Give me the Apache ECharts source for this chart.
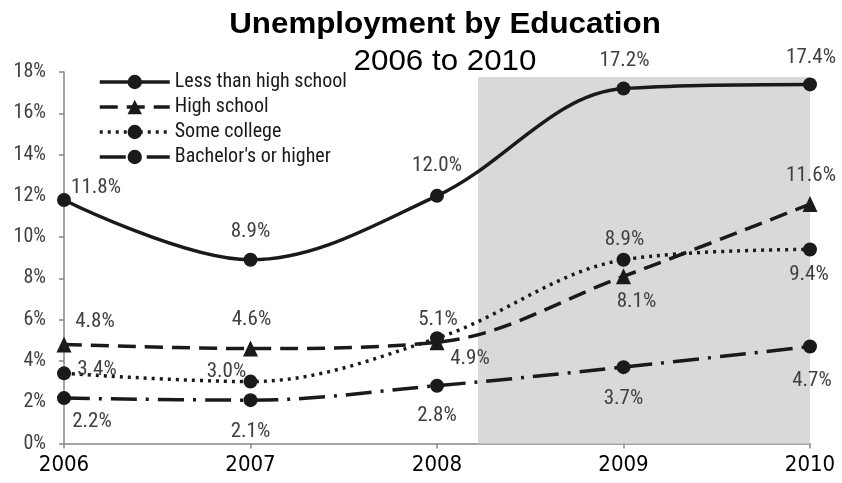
<!DOCTYPE html>
<html>
<head>
<meta charset="utf-8">
<script src="https://cdn.jsdelivr.net/npm/echarts@6/dist/echarts.min.js"></script>
<style>
  html, body { margin: 0; padding: 0; background: #fff; }
  #chart { width: 842px; height: 483px; }
</style>
</head>
<body>
<div id="chart"></div>
<script>
// Unemployment rate (%) by educational attainment, 2006-2010
const years = [2006, 2007, 2008, 2009, 2010];
const lessThanHighSchool = [11.8, 8.9, 12.0, 17.2, 17.4];
const highSchool = [4.8, 4.6, 4.9, 8.1, 11.6];
const someCollege = [3.4, 3.0, 5.1, 8.9, 9.4];
const bachelorsOrHigher = [2.2, 2.1, 2.8, 3.7, 4.7];
const yTicks = [0, 2, 4, 6, 8, 10, 12, 14, 16, 18];

// Shaded recession period (from mid-2008 to end of range)
const shadeFrom = 2008.22;
const shadeTo = 2010;
const shadeTop = 17.76;

const NARROW = '"Liberation Sans Narrow", "Roboto Condensed", "Noto Sans Condensed", "DejaVu Sans Condensed", sans-serif';
const INK = '#1a1a1a';
const LABEL = '#404040';

// Where each value label sits relative to its point [dx, dy]
const labelPlacement = {
  lessThanHighSchool: [[32, -12], [0, -28], [0, -30], [1, -28], [1, -27]],
  highSchool:        [[31, -23], [1, -29], [33, 16], [13, 25], [1, -28]],
  someCollege:       [[33, -4], [-24, -10], [1, -18], [1, -20], [-1, 25]],
  bachelorsOrHigher: [[28, 24], [0, 32], [0, 30], [0, 32], [2, 34]]
};

function points(values, key) {
  return values.map((v, i) => ({
    value: [years[i], v],
    label: { offset: labelPlacement[key][i] }
  }));
}

function lineSeries(name, values, key, symbol, dash, extra) {
  return Object.assign({
    name: name,
    type: 'line',
    smooth: 0.35,
    data: points(values, key),
    symbol: symbol,
    symbolSize: symbol === 'triangle' ? [15, 16] : 14,
    lineStyle: { color: INK, width: 3.5, type: dash, cap: 'butt' },
    itemStyle: { color: INK },
    label: {
      show: true,
      position: 'inside',
      formatter: p => p.value[1].toFixed(1) + '%',
      fontFamily: NARROW,
      fontSize: 21,
      color: LABEL
    },
    emphasis: { disabled: true },
    z: 3
  }, extra || {});
}

const chart = echarts.init(document.getElementById('chart'), null, { renderer: 'canvas' });

chart.setOption({
  animation: false,
  backgroundColor: '#ffffff',
  graphic: [
    {
      type: 'text', x: 445, y: 25, scaleX: 1.08,
      style: {
        text: 'Unemployment by Education',
        font: 'bold 29px "Liberation Sans", Arial, sans-serif',
        fill: '#000', textAlign: 'center', textVerticalAlign: 'middle'
      }
    },
    {
      type: 'text', x: 445, y: 62, scaleX: 1.08,
      style: {
        text: '2006 to 2010',
        font: '29px "Liberation Sans", Arial, sans-serif',
        fill: '#000', textAlign: 'center', textVerticalAlign: 'middle'
      }
    }
  ],
  legend: {
    orient: 'vertical',
    left: 93,
    top: 67,
    itemWidth: 70,
    itemHeight: 18,
    itemGap: 5,
    lineStyle: { width: 3.5 },
    textStyle: { fontFamily: NARROW, fontSize: 20, color: INK },
    data: ['Less than high school', 'High school', 'Some college', "Bachelor's or higher"],
    selectedMode: false
  },
  grid: { left: 64, right: 32, top: 72, bottom: 39.5, containLabel: false },
  xAxis: {
    type: 'value',
    min: years[0],
    max: years[years.length - 1],
    interval: 1,
    splitLine: { show: false },
    axisLine: { show: true, lineStyle: { color: '#868686', width: 1.5 } },
    axisTick: { show: true, length: 5, lineStyle: { color: '#868686', width: 1.5 } },
    axisLabel: {
      margin: 11,
      fontFamily: '"DejaVu Sans Condensed", "DejaVu Sans", sans-serif',
      fontSize: 22,
      color: '#000',
      formatter: v => String(v)
    }
  },
  yAxis: {
    type: 'value',
    min: yTicks[0],
    max: yTicks[yTicks.length - 1],
    interval: 2,
    splitLine: { show: false },
    axisLine: { show: true, lineStyle: { color: '#868686', width: 1.5 } },
    axisTick: { show: true, length: 5, lineStyle: { color: '#868686', width: 1.5 } },
    axisLabel: {
      margin: 18,
      fontFamily: NARROW,
      fontSize: 20,
      color: LABEL,
      formatter: v => v + '%'
    }
  },
  series: [
    lineSeries('Less than high school', lessThanHighSchool, 'lessThanHighSchool', 'circle', 'solid', {
      markArea: {
        silent: true,
        itemStyle: { color: '#d9d9d9' },
        data: [[{ xAxis: shadeFrom, yAxis: 0 }, { xAxis: shadeTo, yAxis: shadeTop }]],
        z: 1
      }
    }),
    lineSeries('High school', highSchool, 'highSchool', 'triangle', [18, 9]),
    lineSeries('Some college', someCollege, 'someCollege', 'circle', [3, 5]),
    lineSeries("Bachelor's or higher", bachelorsOrHigher, 'bachelorsOrHigher', 'circle', [26, 9, 3, 9])
  ]
});
</script>
</body>
</html>
